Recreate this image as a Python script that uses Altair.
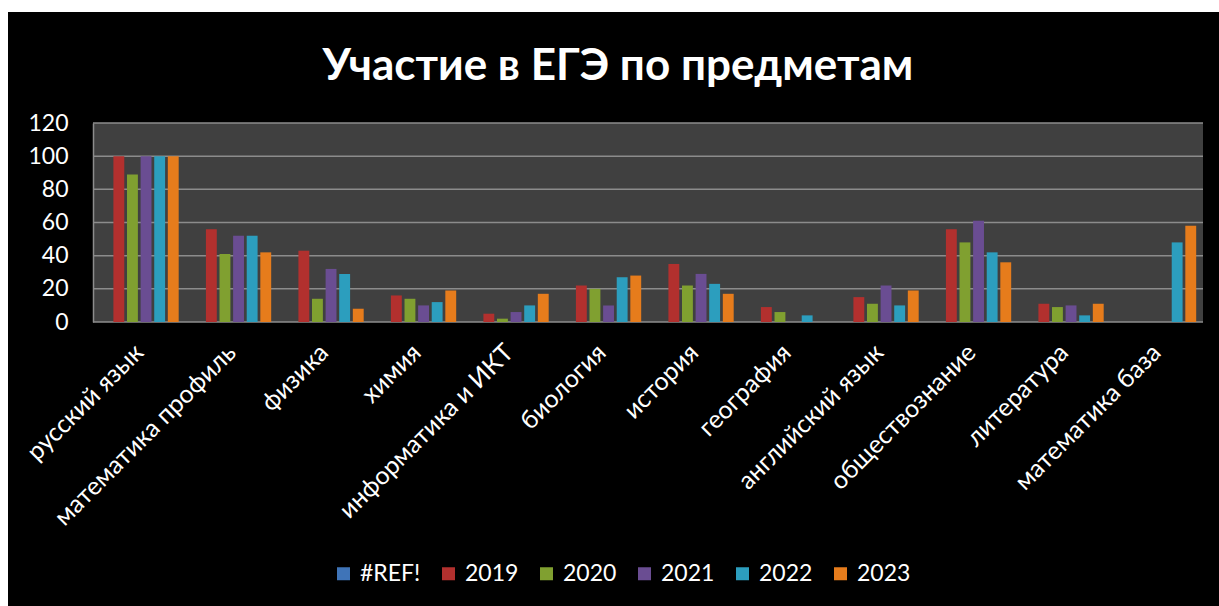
import altair as alt
import pandas as pd

categories = ["русский язык", "математика профиль", "физика", "химия",
              "информатика и ИКТ", "биология", "история", "география",
              "английский язык", "обществознание", "литература", "математика база"]
series = ["#REF!", "2019", "2020", "2021", "2022", "2023"]

v_ref = [0, 0, 0, 0, 0, 0, 0, 0, 0, 0, 0, 0]
v_2019 = [100, 56, 43, 16, 5, 22, 35, 9, 15, 56, 11, None]
v_2020 = [89, 41, 14, 14, 2, 20, 22, 6, 11, 48, 9, None]
v_2021 = [100, 52, 32, 10, 6, 10, 29, None, 22, 61, 10, None]
v_2022 = [100, 52, 29, 12, 10, 27, 23, 4, 10, 42, 4, 48]
v_2023 = [100, 42, 8, 19, 17, 28, 17, None, 19, 36, 11, 58]

colors = ["#3F74B8", "#B2302E", "#80A030", "#6A4D92", "#2C9EBE", "#E67C1C"]
y_ticks = [0, 20, 40, 60, 80, 100, 120]

rows = []
for s, vals in zip(series, [v_ref, v_2019, v_2020, v_2021, v_2022, v_2023]):
    for c, v in zip(categories, vals):
        rows.append({"Предмет": c, "Год": s, "Значение": v})
df = pd.DataFrame(rows)

W, H = 1110, 199
PL, PT, PR, PB = 93, 123, 16, 284
FONT = "Lato"

one = pd.DataFrame({"k": [0]})

y_axis = alt.Axis(title=None, values=y_ticks, labelColor="white", labelFont=FONT,
                  labelFontSize=23, labelPadding=25, ticks=False, grid=False,
                  domain=True, domainColor="#8c8c8c", domainWidth=1.5, zindex=1)
y_scale = alt.Scale(domain=[0, 120])

frame = alt.Chart(one).mark_rect(color="black").encode(
    x=alt.value(8 - PL), x2=alt.value(W + PR), y=alt.value(12 - PT), y2=alt.value(H + PB)
)
plotbg = alt.Chart(one).mark_rect(color="#404040").encode(
    x=alt.value(0), x2=alt.value(W), y=alt.value(0), y2=alt.value(H)
)
grid = alt.Chart(pd.DataFrame({"Значение": y_ticks})).mark_rule(color="#8c8c8c", strokeWidth=1.5).encode(
    y=alt.Y("Значение:Q", scale=y_scale, axis=y_axis),
    x=alt.value(0), x2=alt.value(W)
)

bars = alt.Chart(df).mark_bar().encode(
    x=alt.X("Предмет:N", sort=categories,
            scale=alt.Scale(paddingInner=0, paddingOuter=0),
            axis=alt.Axis(title=None, labelAngle=-45, labelAlign="right", labelBaseline="middle",
                          labelColor="white", labelFont=FONT, labelFontSize=25, labelPadding=26,
                          ticks=False, domain=False, grid=False, zindex=1, labelLimit=400)),
    xOffset=alt.XOffset("Год:N", sort=series, scale=alt.Scale(paddingInner=0.2, paddingOuter=0.5)),
    y=alt.Y("Значение:Q", scale=y_scale, axis=y_axis),
    color=alt.Color("Год:N", sort=series, scale=alt.Scale(domain=series, range=colors),
                    legend=alt.Legend(title=None, orient="none", legendX=239, legendY=439,
                                      direction="horizontal", symbolType="square", symbolSize=169,
                                      symbolStrokeWidth=0, labelColor="white", labelFont=FONT,
                                      labelFontSize=23, columnPadding=16, labelOffset=5)),
)

chart = alt.layer(frame, plotbg, grid, bars).properties(
    width=W, height=H,
    title=alt.TitleParams("Участие в ЕГЭ по предметам", font=FONT, fontSize=44, fontWeight="bold",
                          color="white", anchor="middle", frame="group", dx=-30, offset=-77),
    background="white",
    padding={"left": PL, "top": PT, "right": PR, "bottom": PB},
    autosize=alt.AutoSizeParams(type="none"),
).configure_view(stroke=None)

chart.save("out.html", embed_options={"renderer": "svg", "actions": False})
